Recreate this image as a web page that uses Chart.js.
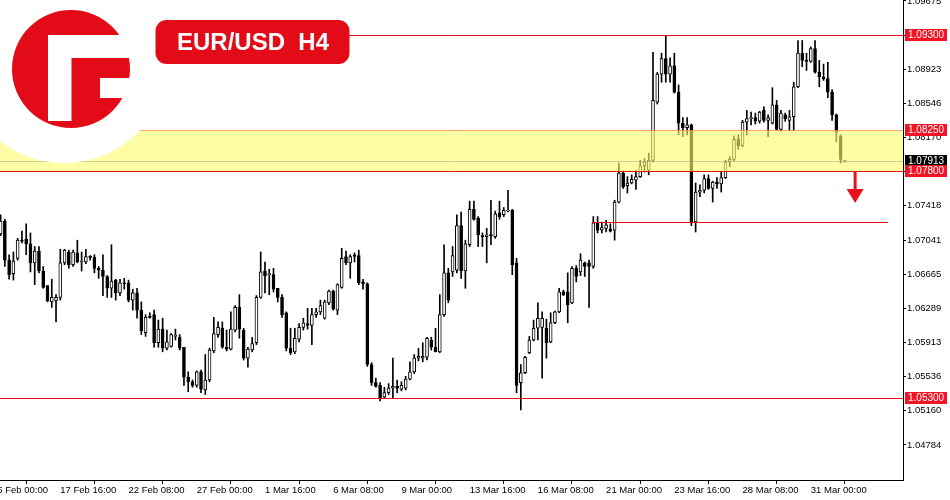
<!DOCTYPE html>
<html>
<head>
<meta charset="utf-8">
<script src="https://cdn.jsdelivr.net/npm/chart.js@4.4.0/dist/chart.umd.min.js"></script>
<style>
  html, body { margin: 0; padding: 0; background: #fff; }
  #wrap { width: 950px; height: 500px; }
</style>
</head>
<body>
<div id="wrap"><canvas id="chart" width="950" height="500"></canvas></div>
<script>
// EUR/USD H4 bars, 15 Feb 08:00 -> 3 Apr 08:00
var opens = [
  1.0711,1.0725,1.0682,1.0667,1.0684,1.0704,1.0705,1.0700,1.0679,1.0692,
  1.0670,1.0654,1.0636,1.0637,1.0641,1.0679,1.0691,1.0677,1.0690,1.0680,
  1.0680,1.0686,1.0685,1.0673,1.0671,1.0664,1.0651,1.0660,1.0646,1.0657,
  1.0657,1.0638,1.0646,1.0627,1.0602,1.0620,1.0622,1.0591,1.0606,1.0585,
  1.0587,1.0598,1.0597,1.0586,1.0553,1.0548,1.0544,1.0559,1.0539,1.0550,
  1.0582,1.0600,1.0607,1.0586,1.0584,1.0605,1.0630,1.0605,1.0574,1.0583,
  1.0591,1.0641,1.0670,1.0666,1.0666,1.0651,1.0641,1.0624,1.0585,1.0581,
  1.0595,1.0608,1.0612,1.0610,1.0622,1.0625,1.0618,1.0635,1.0648,1.0627,
  1.0652,1.0686,1.0679,1.0688,1.0687,1.0658,1.0656,1.0567,1.0547,1.0544,
  1.0531,1.0536,1.0541,1.0543,1.0540,1.0541,1.0551,1.0559,1.0574,1.0574,
  1.0575,1.0594,1.0586,1.0581,1.0622,1.0668,1.0669,1.0671,1.0720,1.0670,
  1.0699,1.0738,1.0728,1.0709,1.0708,1.0710,1.0708,1.0734,1.0732,1.0736,
  1.0737,1.0679,1.0547,1.0558,1.0580,1.0594,1.0607,1.0608,1.0607,1.0592,
  1.0613,1.0625,1.0647,1.0647,1.0635,1.0673,1.0669,1.0679,1.0679,1.0675,
  1.0723,1.0715,1.0717,1.0716,1.0715,1.0746,1.0778,1.0764,1.0767,1.0770,
  1.0774,1.0786,1.0781,1.0792,1.0856,1.0887,1.0904,1.0887,1.0896,1.0867,
  1.0833,1.0828,1.0831,1.0724,1.0757,1.0759,1.0772,1.0761,1.0768,1.0766,
  1.0773,1.0790,1.0793,1.0815,1.0808,1.0834,1.0838,1.0839,1.0835,1.0847,
  1.0836,1.0833,1.0853,1.0826,1.0842,1.0836,1.0840,1.0873,1.0910,1.0902,
  1.0901,1.0915,1.0889,1.0884,1.0882,1.0867,1.0842,1.0819,1.0791
];
var highs = [
  1.0732,1.0727,1.0688,1.0691,1.0706,1.0714,1.0722,1.0712,1.0697,1.0697,
  1.0675,1.0654,1.0661,1.0644,1.0694,1.0694,1.0693,1.0693,1.0704,1.0691,
  1.0694,1.0687,1.0688,1.0675,1.0688,1.0665,1.0699,1.0661,1.0661,1.0662,
  1.0660,1.0650,1.0651,1.0636,1.0622,1.0624,1.0627,1.0616,1.0618,1.0605,
  1.0601,1.0606,1.0600,1.0586,1.0559,1.0550,1.0560,1.0561,1.0578,1.0585,
  1.0619,1.0614,1.0614,1.0605,1.0625,1.0632,1.0644,1.0607,1.0586,1.0597,
  1.0643,1.0691,1.0680,1.0672,1.0673,1.0651,1.0644,1.0625,1.0607,1.0607,
  1.0612,1.0618,1.0629,1.0629,1.0629,1.0638,1.0638,1.0649,1.0649,1.0656,
  1.0695,1.0692,1.0688,1.0690,1.0693,1.0661,1.0657,1.0569,1.0552,1.0547,
  1.0542,1.0546,1.0574,1.0550,1.0548,1.0554,1.0570,1.0578,1.0585,1.0591,
  1.0597,1.0597,1.0607,1.0644,1.0699,1.0673,1.0697,1.0732,1.0735,1.0704,
  1.0747,1.0747,1.0730,1.0712,1.0717,1.0748,1.0736,1.0747,1.0740,1.0759,
  1.0738,1.0684,1.0567,1.0576,1.0598,1.0616,1.0635,1.0625,1.0617,1.0624,
  1.0626,1.0651,1.0649,1.0668,1.0675,1.0676,1.0689,1.0680,1.0682,1.0730,
  1.0730,1.0724,1.0726,1.0722,1.0748,1.0789,1.0780,1.0774,1.0776,1.0781,
  1.0792,1.0794,1.0800,1.0911,1.0889,1.0910,1.0929,1.0905,1.0910,1.0875,
  1.0839,1.0839,1.0832,1.0767,1.0765,1.0776,1.0776,1.0769,1.0773,1.0779,
  1.0792,1.0796,1.0819,1.0820,1.0836,1.0847,1.0845,1.0844,1.0846,1.0851,
  1.0842,1.0872,1.0858,1.0847,1.0844,1.0847,1.0878,1.0924,1.0924,1.0910,
  1.0917,1.0924,1.0902,1.0898,1.0900,1.0870,1.0843,1.0820,1.0792
];
var lows = [
  1.0709,1.0675,1.0661,1.0660,1.0682,1.0701,1.0688,1.0669,1.0655,1.0668,
  1.0651,1.0636,1.0630,1.0614,1.0638,1.0677,1.0673,1.0675,1.0679,1.0670,
  1.0678,1.0682,1.0668,1.0662,1.0643,1.0641,1.0641,1.0638,1.0643,1.0650,
  1.0636,1.0627,1.0618,1.0600,1.0598,1.0618,1.0586,1.0586,1.0581,1.0583,
  1.0586,1.0594,1.0583,1.0544,1.0537,1.0542,1.0542,1.0536,1.0534,1.0548,
  1.0580,1.0597,1.0585,1.0582,1.0583,1.0603,1.0596,1.0572,1.0564,1.0581,
  1.0589,1.0640,1.0646,1.0644,1.0647,1.0636,1.0619,1.0582,1.0578,1.0579,
  1.0592,1.0605,1.0606,1.0589,1.0619,1.0622,1.0617,1.0633,1.0627,1.0622,
  1.0651,1.0677,1.0662,1.0680,1.0655,1.0650,1.0565,1.0544,1.0542,1.0527,
  1.0530,1.0534,1.0530,1.0536,1.0538,1.0539,1.0550,1.0557,1.0571,1.0570,
  1.0572,1.0583,1.0581,1.0580,1.0620,1.0635,1.0664,1.0668,1.0662,1.0651,
  1.0697,1.0726,1.0697,1.0697,1.0679,1.0699,1.0706,1.0727,1.0730,1.0735,
  1.0666,1.0536,1.0517,1.0557,1.0579,1.0593,1.0594,1.0552,1.0574,1.0591,
  1.0612,1.0624,1.0643,1.0613,1.0634,1.0658,1.0665,1.0664,1.0630,1.0673,
  1.0712,1.0712,1.0713,1.0713,1.0704,1.0745,1.0761,1.0756,1.0766,1.0760,
  1.0773,1.0779,1.0776,1.0790,1.0854,1.0878,1.0878,1.0878,1.0866,1.0820,
  1.0818,1.0820,1.0720,1.0713,1.0752,1.0756,1.0760,1.0746,1.0761,1.0757,
  1.0772,1.0785,1.0791,1.0804,1.0807,1.0820,1.0831,1.0832,1.0833,1.0834,
  1.0818,1.0832,1.0825,1.0824,1.0835,1.0825,1.0825,1.0872,1.0895,1.0891,
  1.0900,1.0888,1.0873,1.0880,1.0861,1.0836,1.0812,1.0789,1.0790
];
var closes = [
  1.0725,1.0682,1.0666,1.0681,1.0704,1.0703,1.0700,1.0679,1.0692,1.0670,
  1.0652,1.0637,1.0641,1.0641,1.0679,1.0693,1.0677,1.0691,1.0680,1.0681,
  1.0686,1.0685,1.0673,1.0671,1.0664,1.0651,1.0659,1.0646,1.0657,1.0656,
  1.0638,1.0646,1.0627,1.0604,1.0619,1.0619,1.0591,1.0606,1.0585,1.0592,
  1.0600,1.0598,1.0585,1.0553,1.0548,1.0544,1.0559,1.0540,1.0550,1.0583,
  1.0601,1.0608,1.0586,1.0584,1.0606,1.0630,1.0606,1.0574,1.0584,1.0590,
  1.0641,1.0669,1.0665,1.0667,1.0650,1.0641,1.0622,1.0585,1.0580,1.0596,
  1.0608,1.0613,1.0610,1.0622,1.0625,1.0632,1.0636,1.0648,1.0628,1.0655,
  1.0684,1.0679,1.0686,1.0686,1.0657,1.0656,1.0567,1.0547,1.0543,1.0530,
  1.0536,1.0541,1.0543,1.0541,1.0544,1.0551,1.0559,1.0574,1.0576,1.0576,
  1.0596,1.0586,1.0581,1.0622,1.0668,1.0638,1.0687,1.0720,1.0670,1.0700,
  1.0738,1.0727,1.0710,1.0708,1.0710,1.0709,1.0733,1.0730,1.0737,1.0736,
  1.0677,1.0544,1.0558,1.0575,1.0594,1.0607,1.0618,1.0618,1.0591,1.0613,
  1.0625,1.0647,1.0644,1.0633,1.0673,1.0664,1.0682,1.0675,1.0675,1.0723,
  1.0715,1.0718,1.0721,1.0714,1.0746,1.0778,1.0763,1.0767,1.0771,1.0774,
  1.0786,1.0790,1.0792,1.0858,1.0887,1.0904,1.0887,1.0896,1.0867,1.0833,
  1.0828,1.0831,1.0723,1.0757,1.0759,1.0772,1.0761,1.0768,1.0766,1.0773,
  1.0790,1.0793,1.0815,1.0808,1.0834,1.0838,1.0839,1.0835,1.0845,1.0836,
  1.0839,1.0853,1.0826,1.0844,1.0838,1.0840,1.0873,1.0910,1.0902,1.0901,
  1.0915,1.0889,1.0884,1.0882,1.0867,1.0842,1.0823,1.0793,1.07913
];

// time axis labels, one every 16 bars (bar index of each label)
var timeLabels = ['15 Feb 00:00', '17 Feb 16:00', '22 Feb 08:00', '27 Feb 00:00', '1 Mar 16:00',
  '6 Mar 08:00', '9 Mar 00:00', '13 Mar 16:00', '16 Mar 08:00', '21 Mar 00:00',
  '23 Mar 16:00', '28 Mar 08:00', '31 Mar 00:00'];
var timeLabelBars = [-2, 14, 30, 46, 62, 78, 94, 110, 126, 142, 158, 174, 190];

var priceTicks = [1.04784, 1.05160, 1.05536, 1.05913, 1.06289, 1.06665, 1.07041,
  1.07418, 1.07794, 1.08170, 1.08546, 1.08923, 1.09299, 1.09675];

// drawn levels
var levels = [1.09300, 1.08250, 1.07800, 1.05300];
var zoneTop = 1.08250, zoneBottom = 1.07800;
var lastPrice = 1.07913;
var shortLevel = { price: 1.07244, from: 138.7, to: 208.1 };
var arrowMark = { bar: 200.4, from: 1.07800, to: 1.07450 };

var RED = '#e8101c';

var wicks = highs.map(function(h, i) { return { x: i, y: [lows[i], h] }; });
var bodies = opens.map(function(o, i) { return { x: i, y: [o, closes[i]] }; });

function roundBox(c, x, y, w, h, r) {
  c.beginPath();
  c.moveTo(x + r, y);
  c.lineTo(x + w - r, y);
  c.arcTo(x + w, y, x + w, y + r, r);
  c.lineTo(x + w, y + h - r);
  c.arcTo(x + w, y + h, x + w - r, y + h, r);
  c.lineTo(x + r, y + h);
  c.arcTo(x, y + h, x, y + h - r, r);
  c.lineTo(x, y + r);
  c.arcTo(x, y, x + r, y, r);
  c.closePath();
}

var overlays = {
  id: 'overlays',
  afterDatasetsDraw: function(chart) {
    var c = chart.ctx, a = chart.chartArea, xs = chart.scales.x, ys = chart.scales.y;
    var w = a.right - a.left;
    c.save();
    c.beginPath(); c.rect(a.left, a.top, w, a.bottom - a.top); c.clip();

    // yellow zone
    var zt = ys.getPixelForValue(zoneTop), zb = ys.getPixelForValue(zoneBottom);
    c.fillStyle = 'rgba(251,251,110,0.62)';
    c.fillRect(a.left, zt, w, zb - zt);

    // last price line
    var lp = Math.round(ys.getPixelForValue(lastPrice)) + 0.5;
    c.strokeStyle = 'rgba(150,150,120,0.45)';
    c.lineWidth = 1;
    c.beginPath(); c.moveTo(a.left, lp); c.lineTo(a.right, lp); c.stroke();

    // horizontal levels
    levels.forEach(function(p) {
      var py = Math.round(ys.getPixelForValue(p)) + 0.5;
      c.strokeStyle = p === zoneTop ? 'rgba(245,130,70,0.7)' : RED;
      c.beginPath(); c.moveTo(a.left, py); c.lineTo(a.right, py); c.stroke();
    });
    var sy = Math.round(ys.getPixelForValue(shortLevel.price)) + 0.5;
    c.strokeStyle = RED;
    c.beginPath();
    c.moveTo(xs.getPixelForValue(shortLevel.from), sy);
    c.lineTo(xs.getPixelForValue(shortLevel.to), sy);
    c.stroke();

    // arrow
    var ax = xs.getPixelForValue(arrowMark.bar);
    var ay0 = ys.getPixelForValue(arrowMark.from);
    var ay1 = ys.getPixelForValue(arrowMark.to);
    var head = 14;
    c.fillStyle = RED;
    c.fillRect(ax - 1.5, ay0, 3, ay1 - ay0 - head + 1);
    c.beginPath();
    c.moveTo(ax - 8.5, ay1 - head);
    c.lineTo(ax + 8.5, ay1 - head);
    c.lineTo(ax, ay1);
    c.closePath();
    c.fill();
    c.restore();
  },
  afterDraw: function(chart) {
    var c = chart.ctx, ys = chart.scales.y, a = chart.chartArea;
    c.save();
    c.font = '10px "Liberation Sans", Arial, sans-serif';
    c.textBaseline = 'middle';
    c.textAlign = 'left';
    function tag(p, bg) {
      var py = Math.round(ys.getPixelForValue(p));
      c.fillStyle = bg;
      c.fillRect(a.right + 2, py - 6, 42, 12);
      c.fillStyle = '#fff';
      c.fillText(p.toFixed(5), a.right + 5, py + 0.5);
    }
    tag(lastPrice, '#000');
    levels.forEach(function(p) { tag(p, '#f01424'); });

    // logo
    c.fillStyle = '#fff';
    c.beginPath(); c.arc(64, 58, 105, 0, Math.PI * 2); c.fill();
    c.fillStyle = '#e30b17';
    c.beginPath(); c.arc(71, 69, 59, 0, Math.PI * 2); c.fill();
    c.fillStyle = '#fff';
    c.fillRect(48, 35, 90, 23);
    c.fillRect(48, 35, 23.5, 86);
    c.fillRect(100, 78, 40, 20);

    // title badge
    c.fillStyle = '#e30b17';
    roundBox(c, 155.5, 20, 194, 44, 11);
    c.fill();
    c.fillStyle = '#fff';
    c.font = 'bold 24px "Liberation Sans", Arial, sans-serif';
    c.textAlign = 'center';
    c.fillText('EUR/USD  H4', 253, 43);
    c.restore();
  }
};

var ctx = document.getElementById('chart').getContext('2d');
var chart = new Chart(ctx, {
  type: 'bar',
  data: {
    datasets: [{
      label: 'body',
      data: bodies,
      order: 0,
      grouped: false,
      barThickness: 3,
      minBarLength: 1,
      borderWidth: 1,
      borderSkipped: false,
      borderColor: '#000',
      backgroundColor: function(c) {
        var i = c.dataIndex;
        return closes[i] >= opens[i] ? '#ffffff' : '#000000';
      }
    }, {
      label: 'wick',
      data: wicks,
      order: 1,
      grouped: false,
      barThickness: 1,
      borderWidth: 0,
      backgroundColor: '#000'
    }]
  },
  options: {
    responsive: false,
    animation: false,
    layout: { padding: 0 },
    plugins: { legend: { display: false }, tooltip: { enabled: false } },
    scales: {
      x: {
        type: 'linear',
        min: -0.1407,
        max: 211.63,
        offset: false,
        afterBuildTicks: function(s) {
          s.ticks = timeLabelBars.map(function(v) { return { value: v }; });
        },
        afterFit: function(s) { s.height = 20; s.paddingLeft = 0; s.paddingRight = 0; },
        grid: { drawOnChartArea: false, drawTicks: true, tickLength: 4, color: '#000' },
        border: { display: true, color: '#000', width: 1 },
        ticks: {
          autoSkip: false,
          maxRotation: 0,
          align: 'start',
          padding: 1,
          color: '#000',
          font: { family: '"Liberation Sans", Arial, sans-serif', size: 9.5 },
          callback: function(v, i) { return timeLabels[i]; }
        }
      },
      y: {
        type: 'linear',
        position: 'right',
        min: 1.04398,
        max: 1.09686,
        afterBuildTicks: function(s) {
          s.ticks = priceTicks.map(function(v) { return { value: v }; });
        },
        afterFit: function(s) { s.width = 47; s.paddingTop = 0; s.paddingBottom = 0; },
        grid: { drawOnChartArea: false, drawTicks: true, tickLength: 3, color: '#000' },
        border: { display: true, color: '#000', width: 1 },
        ticks: {
          padding: 1,
          color: '#000',
          font: { family: '"Liberation Sans", Arial, sans-serif', size: 9.5 },
          callback: function(v) { return v.toFixed(5); }
        }
      }
    }
  },
  plugins: [overlays]
});
</script>
</body>
</html>
